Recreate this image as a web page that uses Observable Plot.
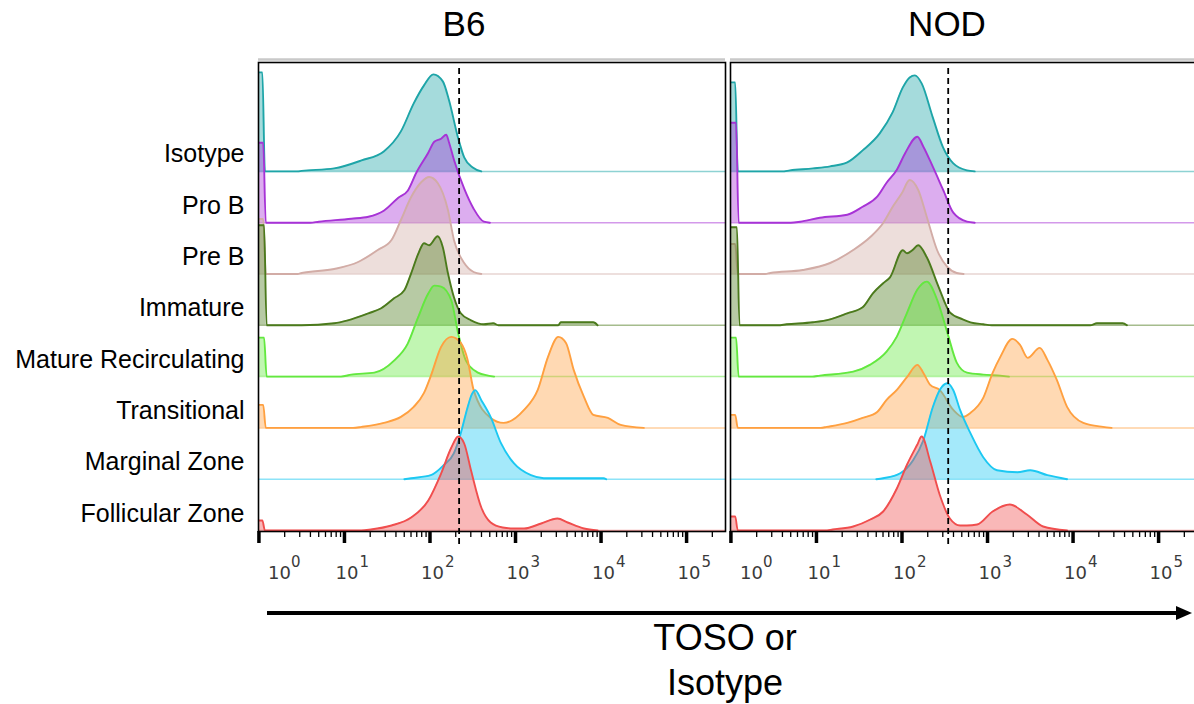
<!DOCTYPE html>
<html><head><meta charset="utf-8">
<script src="https://cdn.jsdelivr.net/npm/d3@7"></script>
<script src="https://cdn.jsdelivr.net/npm/@observablehq/plot@0.6"></script>
<style>
html,body{margin:0;padding:0;overflow:hidden;background:#fff;}
#wrap{position:relative;width:1194px;height:704px;overflow:hidden;background:#fff;}
#caption{position:absolute;left:525px;top:615px;width:400px;text-align:center;font-family:"Liberation Sans",Arial,Helvetica,sans-serif;font-size:36px;line-height:45px;color:#000;}
#arrow{position:absolute;left:0;top:600px;}
</style></head><body>
<div id="wrap">
<svg id="arrow" width="1194" height="30"><line x1="267" y1="13" x2="1180" y2="13" stroke="#000" stroke-width="4"/><polygon points="1176,6 1192,13 1176,20" fill="#000"/></svg>
<div id="caption">TOSO or<br>Isotype</div>
</div>
<script>
// ---- categories ----
const panels = ["B6", "NOD"];
const populations = ["Isotype", "Pro B", "Pre B", "Immature", "Mature Recirculating", "Transitional", "Marginal Zone", "Follicular Zone"];
const strokeColors = ["#1ea5a8", "#a733d6", "#d2aca6", "#4b7a1c", "#63e83f", "#ffa040", "#1cc8f2", "#f04e4e"];
// gate (dashed line) per panel, fluorescence intensity
const gateValues = [219, 347];
// axis ticks
const majorTicks = [1, 10, 100, 1000, 10000, 100000];
const tickExponents = ["0", "1", "2", "3", "4", "5"];
const minorMultipliers = [2, 3, 4, 5, 6, 7, 8, 9];

// ---- histograms: [log10 intensity, relative count] ----
const b6Isotype = [[0,99],[0.04,99],[0.07,0],[0.45,0],[0.5,0.5],[0.88,3],[1.2,11],[1.46,20],[1.66,40],[1.81,68],[1.93,86],[2.04,97],[2.15,90],[2.22,72],[2.33,33],[2.4,14],[2.5,4],[2.6,0],[5.45,0]];
const b6ProB = [[0,80],[0.05,80],[0.08,0],[0.6,0],[0.7,1],[1.08,4],[1.28,6],[1.46,12],[1.63,25],[1.74,32],[1.84,50],[1.98,70],[2.05,81],[2.13,84],[2.19,88],[2.22,81],[2.28,63],[2.4,34],[2.51,14],[2.63,1],[2.7,0],[5.45,0]];
const b6PreB = [[0,55],[0.05,55],[0.08,0],[0.45,0],[0.5,1],[0.88,5],[1.16,12],[1.39,24],[1.55,34],[1.66,54],[1.78,77],[1.9,92],[1.99,97],[2.09,91],[2.21,64],[2.28,34],[2.4,11],[2.51,2],[2.6,0],[5.45,0]];
const b6Immature = [[0,100],[0.06,100],[0.09,0],[0.5,0],[0.88,2],[1.04,5],[1.28,12],[1.43,17],[1.58,27],[1.7,35],[1.78,52],[1.87,73],[1.93,82],[1.99,80],[2.09,89],[2.15,78],[2.21,52],[2.28,28],[2.36,12],[2.48,5],[2.63,1],[2.74,2],[2.8,0],[3.5,0],[3.53,3],[3.91,3],[3.96,0],[5.45,0]];
const b6Mature = [[0,39],[0.06,39],[0.09,0],[0.96,0],[1.08,2],[1.35,4],[1.58,16],[1.74,33],[1.86,59],[1.98,83],[2.05,91],[2.13,90],[2.25,76],[2.33,43],[2.42,16],[2.56,4],[2.68,1],[2.75,0],[5.45,0]];
const b6Transitional = [[0,23],[0.05,23],[0.08,0],[1.1,0],[1.2,1],[1.46,5],[1.66,11],[1.81,21],[1.93,35],[2.01,52],[2.13,81],[2.25,91],[2.36,85],[2.44,68],[2.51,38],[2.71,10],[2.86,5],[3.1,18],[3.26,38],[3.38,71],[3.5,91],[3.59,85],[3.68,58],[3.8,31],[3.91,13],[4.08,10],[4.23,3],[4.5,0],[5.45,0]];
const b6Marginal = [[0,0],[1.7,0],[1.78,1],[2.01,4],[2.16,14],[2.28,26],[2.36,46],[2.44,72],[2.49,85],[2.53,89],[2.6,79],[2.71,62],[2.83,36],[2.98,16],[3.18,4],[3.33,1],[4.03,1],[4.06,0],[5.45,0]];
const b6Follicular = [[0,10],[0.04,10],[0.07,0],[1.2,0],[1.31,1],[1.55,5],[1.78,13],[1.98,30],[2.13,57],[2.25,83],[2.33,94],[2.4,87],[2.48,60],[2.6,23],[2.71,8],[2.85,3],[2.98,2],[3.1,2],[3.3,7],[3.49,12],[3.61,8],[3.8,2],[3.96,0],[5.45,0]];

const nodIsotype = [[0,89],[0.05,89],[0.08,0],[0.6,0],[0.69,1],[0.96,3],[1.16,5],[1.36,9],[1.54,21],[1.74,38],[1.89,59],[2.01,84],[2.09,94],[2.15,96],[2.23,88],[2.36,54],[2.48,24],[2.6,8],[2.76,1],[2.85,0],[5.45,0]];
const nodProB = [[0,100],[0.06,100],[0.09,0],[0.7,0],[0.81,1],[1.04,5],[1.36,8],[1.54,16],[1.71,26],[1.82,40],[1.94,53],[2.04,70],[2.18,86],[2.25,76],[2.36,56],[2.48,33],[2.6,10],[2.76,1],[2.85,0],[5.45,0]];
const nodPreB = [[0,30],[0.05,30],[0.08,0],[0.4,0],[0.46,1],[0.84,4],[1.16,11],[1.43,24],[1.63,37],[1.78,51],[1.89,67],[2.0,81],[2.09,94],[2.19,84],[2.29,57],[2.41,24],[2.53,7],[2.64,1],[2.72,0],[5.45,0]];
const nodImmature = [[0,98],[0.07,98],[0.1,0],[0.55,0],[0.65,1],[0.96,3],[1.16,6],[1.36,12],[1.54,18],[1.66,32],[1.78,42],[1.86,48],[2.01,75],[2.06,72],[2.12,75],[2.19,80],[2.29,68],[2.43,38],[2.56,13],[2.71,6],[2.8,3],[2.95,1],[3.05,0],[4.2,0],[4.28,2],[4.58,2],[4.63,0],[5.45,0]];
const nodMature = [[0,39],[0.06,39],[0.09,0],[0.95,0],[1.04,1],[1.43,5],[1.63,12],[1.82,25],[1.94,40],[2.06,64],[2.18,87],[2.29,95],[2.41,77],[2.53,44],[2.64,14],[2.76,4],[2.95,2],[3.15,1],[3.25,0],[5.45,0]];
const nodTransitional = [[0,13],[0.05,13],[0.08,0],[1.05,0],[1.12,1],[1.36,5],[1.54,10],[1.71,16],[1.82,28],[1.94,38],[2.06,51],[2.18,63],[2.25,55],[2.33,43],[2.44,38],[2.6,18],[2.71,11],[2.8,15],[2.95,30],[3.06,55],[3.15,71],[3.29,89],[3.38,83],[3.47,70],[3.61,80],[3.7,68],[3.81,48],[3.93,21],[4.12,5],[4.35,1],[4.45,0],[5.45,0]];
const nodMarginal = [[0,0],[1.7,0],[1.78,1],[1.98,6],[2.13,19],[2.25,39],[2.36,72],[2.44,89],[2.53,96],[2.6,89],[2.68,69],[2.8,46],[2.95,22],[3.11,9],[3.35,7],[3.5,9],[3.7,4],[3.93,0],[5.45,0]];
const nodFollicular = [[0,14],[0.05,14],[0.08,0],[1.1,0],[1.19,1],[1.43,4],[1.63,11],[1.78,19],[1.94,42],[2.06,66],[2.18,86],[2.23,94],[2.33,69],[2.44,36],[2.56,12],[2.68,5],[2.76,5],[2.88,6],[3.06,19],[3.26,26],[3.46,16],[3.65,4],[3.93,0],[5.45,0]];

// ---- tidy table ----
const seriesByPanel = {
  B6: [b6Isotype, b6ProB, b6PreB, b6Immature, b6Mature, b6Transitional, b6Marginal, b6Follicular],
  NOD: [nodIsotype, nodProB, nodPreB, nodImmature, nodMature, nodTransitional, nodMarginal, nodFollicular]
};
const rowStep = 51.3;
const nRows = populations.length;
const baseOf = i => (nRows - 1 - i) * rowStep;
const tidy = [];
panels.forEach(panel => {
  seriesByPanel[panel].forEach((arr, i) => {
    arr.forEach(([e, h], j) => {
      // outline only where the curve is off the baseline (or next to such a point)
      const near = h > 0 || (j > 0 && arr[j - 1][1] > 0) || (j < arr.length - 1 && arr[j + 1][1] > 0);
      tidy.push({panel, pop: populations[i], x: Math.pow(10, e), base: baseOf(i), top: baseOf(i) + h, outline: near ? baseOf(i) + h : NaN});
    });
  });
});
const gates = panels.map((panel, i) => ({panel, value: gateValues[i]}));
const minorTicks = [];
majorTicks.forEach(t => minorMultipliers.forEach(m => { if (Math.log10(m * t) < 5.45) minorTicks.push(m * t); }));
const labelRows = populations.map((pop, i) => ({pop, ly: baseOf(i) + 17}));

const sansFont = "'Liberation Sans', Arial, Helvetica, sans-serif";
const tickFont = "'DejaVu Sans', sans-serif";

const marks = [];
marks.push(Plot.ruleY([468], {dy: -3, stroke: "#c9c9c9", strokeWidth: 2.5}));
populations.forEach((pop, i) => {
  const d = tidy.filter(r => r.pop === pop);
  marks.push(Plot.ruleY([baseOf(i)], {stroke: strokeColors[i], strokeOpacity: 0.5, strokeWidth: 1.5}));
  marks.push(Plot.areaY(d, {x: "x", y1: "base", y2: "top", fx: "panel", z: "panel", fill: strokeColors[i], fillOpacity: 0.4, curve: "monotone-x"}));
  marks.push(Plot.lineY(d, {x: "x", y: "outline", fx: "panel", z: "panel", stroke: strokeColors[i], strokeWidth: 1.9, curve: "monotone-x"}));
});
marks.push(Plot.frame({stroke: "#000", strokeWidth: 1.6}));
marks.push(Plot.ruleX(gates, {x: "value", fx: "panel", y1: -14, y2: 462, stroke: "#000", strokeWidth: 1.8, strokeDasharray: "6,4"}));
marks.push(Plot.ruleX(minorTicks, {x: d => d, y1: -1, y2: -7, stroke: "#000", strokeWidth: 1.3}));
marks.push(Plot.ruleX(majorTicks, {x: d => d, y1: -1, y2: -13, stroke: "#000", strokeWidth: 3.5}));
// tick labels 10^k
const firstTick = majorTicks.slice(0, 1), otherTicks = majorTicks.slice(1);
const expOf = d => tickExponents[majorTicks.indexOf(d)];
marks.push(Plot.text(firstTick, {x: d => d, y: -43, text: () => "10", textAnchor: "start", dx: 9, fontSize: 18, fontFamily: tickFont, fill: "#3a3a3a", lineAnchor: "middle"}));
marks.push(Plot.text(firstTick, {x: d => d, y: -32, text: expOf, textAnchor: "start", dx: 32, fontSize: 15, fontFamily: tickFont, fill: "#3a3a3a", lineAnchor: "middle"}));
marks.push(Plot.text(otherTicks, {x: d => d, y: -43, text: () => "10", textAnchor: "start", dx: -9, fontSize: 18, fontFamily: tickFont, fill: "#3a3a3a", lineAnchor: "middle"}));
marks.push(Plot.text(otherTicks, {x: d => d, y: -32, text: expOf, textAnchor: "start", dx: 15, fontSize: 15, fontFamily: tickFont, fill: "#3a3a3a", lineAnchor: "middle"}));
// panel titles
marks.push(Plot.text([panels[0]], {fx: d => d, text: d => d, frameAnchor: "top", dy: -38, dx: -28, fontSize: 35, fontFamily: sansFont, lineAnchor: "middle"}));
marks.push(Plot.text([panels[1]], {fx: d => d, text: d => d, frameAnchor: "top", dy: -38, dx: -17, fontSize: 35, fontFamily: sansFont, lineAnchor: "middle"}));
// row labels
marks.push(Plot.text(labelRows, {fx: () => panels[0], y: "ly", text: "pop", frameAnchor: "left", textAnchor: "end", dx: -14, fontSize: 25, fontFamily: sansFont, lineAnchor: "middle"}));

const chart = Plot.plot({
  width: 1197,
  height: 600,
  marginTop: 62,
  marginBottom: 69,
  marginLeft: 258,
  marginRight: 0,
  facet: {marginTop: 0, marginRight: 0, marginBottom: 0, marginLeft: 0},
  fx: {domain: panels, paddingInner: 0.0106, paddingOuter: 0, axis: null},
  x: {type: "log", domain: [Math.pow(10, -0.005), Math.pow(10, 5.455)], axis: null},
  y: {domain: [-1, 468], axis: null},
  style: {fontFamily: sansFont, maxWidth: "none", overflow: "visible", background: "white"},
  marks
});
const wrap = document.getElementById("wrap");
wrap.insertBefore(chart, wrap.firstChild);
</script>
</body></html>
